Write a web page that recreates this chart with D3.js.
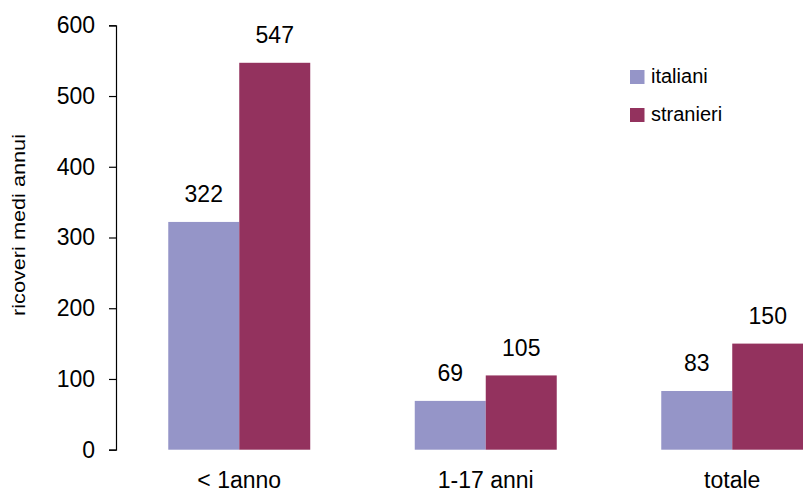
<!DOCTYPE html>
<html>
<head>
<meta charset="utf-8">
<script src="https://cdn.jsdelivr.net/npm/d3@7"></script>
<style>
  html, body { margin: 0; padding: 0; background: #fff; }
  svg { display: block; }
  text { font-family: "Liberation Sans", Arial, sans-serif; fill: #000; }
</style>
</head>
<body>
<svg id="chart" width="803" height="494"></svg>
<script>
// Average annual hospital admissions by age group
const categories = ["< 1anno", "1-17 anni", "totale"];
const seriesNames = ["italiani", "stranieri"];
const italiani = [322, 69, 83];
const stranieri = [547, 105, 150];
const yTicks = [0, 100, 200, 300, 400, 500, 600];
const colors = ["#9595C8", "#93325E"];

const svg = d3.select("#chart");
const plot = { left: 116, top: 25.3, bottom: 449.7 };

const y = d3.scaleLinear().domain([0, 600]).range([plot.bottom, plot.top]);
const x0 = d3.scaleBand()
  .domain(categories)
  .range([plot.left, plot.left + 3 * 246.5])
  .paddingInner(0.424)
  .paddingOuter(0.212);
const x1 = d3.scaleBand().domain(seriesNames).range([0, x0.bandwidth()]);

const rows = categories.map((c, i) => ({ cat: c, values: [italiani[i], stranieri[i]] }));

// Bars
const groups = svg.append("g").selectAll("g")
  .data(rows).join("g")
  .attr("transform", d => `translate(${x0(d.cat)},0)`);

groups.selectAll("rect")
  .data(d => d.values.map((v, j) => ({ key: seriesNames[j], v, j })))
  .join("rect")
  .attr("x", d => x1(d.key))
  .attr("y", d => y(d.v))
  .attr("width", x1.bandwidth())
  .attr("height", d => y(0) - y(d.v))
  .attr("fill", d => colors[d.j]);

// Value labels above each bar
groups.selectAll("text.val")
  .data(d => d.values.map((v, j) => ({ key: seriesNames[j], v })))
  .join("text")
  .attr("class", "val")
  .attr("x", d => x1(d.key) + x1.bandwidth() / 2)
  .attr("y", d => y(d.v) - 19.5)
  .attr("text-anchor", "middle")
  .style("font-size", "23px")
  .text(d => d.v);

// Y axis
const yAxis = d3.axisLeft(y).tickValues(yTicks).tickSize(7).tickSizeOuter(7).tickPadding(14);
const ga = svg.append("g").attr("transform", `translate(${plot.left},0)`).call(yAxis);
ga.select(".domain").attr("stroke", "#000").attr("stroke-width", 1.2);
ga.selectAll(".tick line").attr("stroke", "#000").attr("stroke-width", 1.2);
ga.selectAll(".tick text")
  .style("font-size", "23px")
  .style("font-family", "'Liberation Sans', Arial, sans-serif")
  .attr("fill", "#000");

// Category labels
svg.append("g").selectAll("text")
  .data(categories).join("text")
  .attr("x", d => x0(d) + x0.bandwidth() / 2)
  .attr("y", 488)
  .attr("text-anchor", "middle")
  .style("font-size", "23px")
  .text(d => d);

// Y axis title
svg.append("text")
  .attr("transform", "translate(25,225) rotate(-90)")
  .attr("text-anchor", "middle")
  .attr("textLength", 182)
  .attr("lengthAdjust", "spacingAndGlyphs")
  .style("font-size", "19px")
  .text("ricoveri  medi annui");

// Legend
const legend = svg.append("g").attr("transform", "translate(630,70)");
const li = legend.selectAll("g").data(seriesNames).join("g")
  .attr("transform", (d, i) => `translate(0,${i * 38})`);
li.append("rect").attr("width", 14.5).attr("height", 14).attr("fill", (d, i) => colors[i]);
li.append("text").attr("x", 21).attr("y", 12.5).style("font-size", "20px").text(d => d);
</script>
</body>
</html>
